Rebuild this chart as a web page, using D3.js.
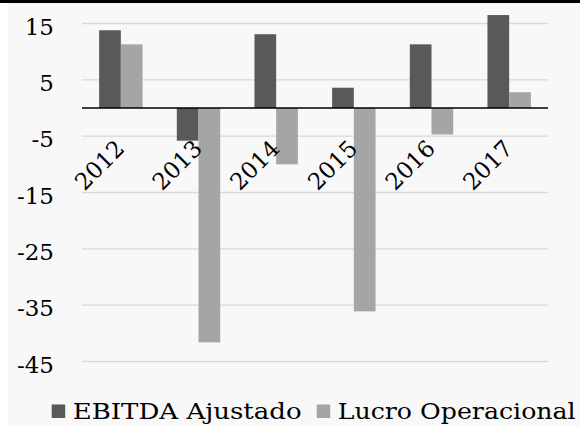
<!DOCTYPE html>
<html>
<head>
<meta charset="utf-8">
<script src="https://cdn.jsdelivr.net/npm/d3@7"></script>
<style>
  body { margin: 0; background: #fff; }
  svg { display: block; }
  text { font-family: "DejaVu Serif", serif; fill: #000; }
</style>
</head>
<body>
<svg></svg>
<script>
var years = ["2012", "2013", "2014", "2015", "2016", "2017"];
var seriesNames = ["EBITDA Ajustado", "Lucro Operacional"];
var ebitda = [13.8, -5.8, 13.1, 3.6, 11.3, 16.5];
var lucro = [11.3, -41.6, -10.0, -36.1, -4.7, 2.8];
var yTicks = [15, 5, -5, -15, -25, -35, -45];
var colors = ["#595959", "#a5a5a5"];

var svgwidth = 580, svgheight = 426;
var plotLeft = 82, plotRight = 548, plotTop = 23.5, plotBottom = 361.5;

var svg = d3.select("svg")
        .attr("width", svgwidth)
        .attr("height", svgheight);

// page background + black strip on top
svg.append("rect").attr("x", 8).attr("y", 0).attr("width", svgwidth - 8).attr("height", svgheight).attr("fill", "#f8f8f8");
svg.append("rect").attr("x", 0).attr("y", 0).attr("width", svgwidth).attr("height", 3).attr("fill", "#000");

var x = d3.scaleBand().domain(years).range([plotLeft, plotRight]);
var x1 = d3.scaleBand().domain([0, 1]).range([0, 43.4]);
var y = d3.scaleLinear().domain([-45, 15]).range([plotBottom, plotTop]);

// gridlines
svg.append("g").selectAll("line")
        .data(yTicks)
        .enter()
        .append("line")
        .attr("x1", plotLeft).attr("x2", plotRight)
        .attr("y1", function (d) { return y(d); })
        .attr("y2", function (d) { return y(d); })
        .attr("stroke", "#d9d9d9")
        .attr("stroke-width", 1.3);

// y tick labels (sit a little below their gridline, like the original)
svg.append("g").selectAll("text")
        .data(yTicks)
        .enter()
        .append("text")
        .attr("x", 54)
        .attr("y", function (d) { return y(d) + 3; })
        .attr("dy", "0.35em")
        .attr("text-anchor", "end")
        .style("font-size", "23px")
        .text(function (d) { return d; });

// bars
var rows = years.map(function (yr, i) { return { year: yr, vals: [ebitda[i], lucro[i]] }; });
var groups = svg.append("g").selectAll("g")
        .data(rows)
        .enter()
        .append("g")
        .attr("transform", function (d) {
                return "translate(" + (x(d.year) + (x.bandwidth() - 43.4) / 2) + ",0)";
        });
groups.selectAll("rect")
        .data(function (d) { return d.vals; })
        .enter()
        .append("rect")
        .attr("x", function (d, j) { return x1(j); })
        .attr("width", x1.bandwidth())
        .attr("y", function (d) { return y(Math.max(0, d)); })
        .attr("height", function (d) { return Math.abs(y(d) - y(0)); })
        .attr("fill", function (d, j) { return colors[j]; });

// zero line
svg.append("line")
        .attr("x1", plotLeft).attr("x2", plotRight)
        .attr("y1", y(0)).attr("y2", y(0))
        .attr("stroke", "#000").attr("stroke-width", 1.5);

// rotated year labels
svg.append("g").selectAll("text")
        .data(years)
        .enter()
        .append("text")
        .attr("text-anchor", "end")
        .style("font-size", "23px")
        .attr("transform", function (d) {
                var cx = x(d) + x.bandwidth() / 2 + 5;
                return "translate(" + cx + "," + (y(0) + 42) + ") rotate(-45)";
        })
        .text(function (d) { return d; });

// legend
var legX = [51.7, 316.7];
var legW = [229, 238];
var leg = svg.append("g").selectAll("g")
        .data(seriesNames)
        .enter()
        .append("g");
leg.append("rect")
        .attr("x", function (d, i) { return legX[i]; })
        .attr("y", 404.5)
        .attr("width", 13.5).attr("height", 13.5)
        .attr("fill", function (d, i) { return colors[i]; });
leg.append("text")
        .attr("x", function (d, i) { return legX[i] + 21; })
        .attr("y", 418.5)
        .attr("textLength", function (d, i) { return legW[i]; })
        .attr("lengthAdjust", "spacingAndGlyphs")
        .style("font-size", "22px")
        .text(function (d) { return d; });
</script>
</body>
</html>
